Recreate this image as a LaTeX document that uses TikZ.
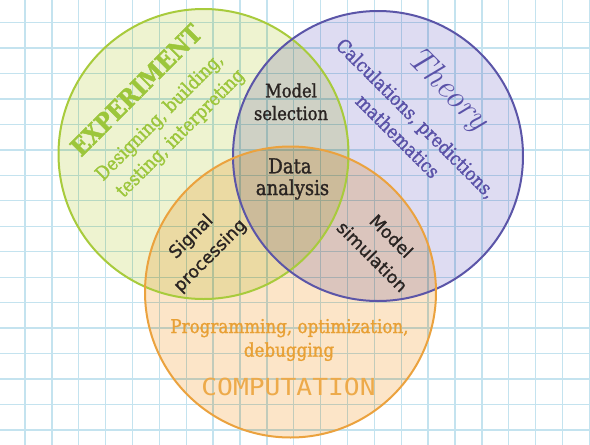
\documentclass[tikz,border=0pt]{standalone}
\usepackage{fontspec}
\newfontfamily\slab[FakeStretch=0.88,FakeBold=1.4]{DejaVu Serif}
\newfontfamily\slabx[FakeStretch=0.88,FakeBold=1.8]{DejaVu Serif}
\newfontfamily\sansf[FakeBold=1.2]{DejaVu Sans}
\newfontfamily\monof[FakeStretch=1.12]{DejaVu Sans Mono}
\definecolor{gridblue}{HTML}{C4E3EF}
\definecolor{gfill}{HTML}{EEF3D0}
\definecolor{pfill}{HTML}{DEDCF2}
\definecolor{ofill}{HTML}{FCE5C8}
\definecolor{gline}{HTML}{A8CB3C}
\definecolor{pline}{HTML}{5B55A8}
\definecolor{oline}{HTML}{EBA23E}
\definecolor{gtext}{HTML}{9CC63B}
\definecolor{ptext}{HTML}{5A52A8}
\definecolor{otext}{HTML}{E8A035}
\definecolor{ctext}{HTML}{EDAA4A}
\definecolor{dark}{HTML}{2A2422}
\tikzset{
  gridline/.style={draw=gridblue, line width=1.3pt},
  vennfill/.style={blend mode=multiply},
  vennline/.style={line width=2pt},
  lbl/.style={inner sep=0pt, outer sep=0pt},
  desc/.style={lbl, font=\slab\fontsize{19}{24}\selectfont},
  inner/.style={lbl, text=dark, font=\slab\fontsize{18.5}{22}\selectfont},
  center/.style={lbl, text=dark, font=\slab\fontsize{20.5}{22}\selectfont},
  side/.style={lbl, text=dark, font=\sansf\fontsize{17.5}{22}\selectfont},
}
\begin{document}
\begin{tikzpicture}[x=1pt,y=-1pt]
\useasboundingbox (0,0) rectangle (590,445);
\fill[white] (0,0) rectangle (590,445);
% grid paper
\foreach \i in {-1,...,21} \draw[gridline] ({25+26.875*\i},0) -- ({25+26.875*\i},445);
\foreach \j in {0,...,16} \draw[gridline] (0,{22.6+25.46*\j}) -- (590,{22.6+25.46*\j});
% circle centres
\coordinate (gc) at (203.5,154);
\coordinate (pc) at (378,156);
\coordinate (oc) at (290.5,292);
% fills
\fill[vennfill, gfill] (gc) circle[radius=145];
\fill[vennfill, pfill] (pc) circle[radius=145];
\fill[vennfill, ofill] (oc) circle[radius=145.5];
% outlines
\draw[vennline, gline] (gc) circle[radius=145];
\draw[vennline, pline] (pc) circle[radius=145];
\draw[vennline, oline] (oc) circle[radius=145.5];
% experiment
\node[lbl, text=gtext, rotate=45, font=\slabx\bfseries\fontsize{25}{28}\selectfont] (exp) at (136,90) {EXPERIMENT};
\node[desc, text=gtext, rotate=45] (exp1) at (160,117.5) {Designing, building,};
\node[desc, text=gtext, rotate=45] (exp2) at (181,134) {testing, interpreting};
% theory
\node[lbl, text=ptext, rotate=-45, font=\rmfamily\itshape\fontsize{34}{36}\selectfont] (the) at (447,90) {Theory};
\node[desc, text=ptext, rotate=-45] (the1) at (415,119.5) {Calculations, predictions,};
\node[desc, text=ptext, rotate=-45] (the2) at (398,136) {mathematics};
% computation
\node[desc, text=otext, anchor=base] (com1) at (289.5,333) {Programming, optimization,};
\node[desc, text=otext, anchor=base] (com2) at (289,356.7) {debugging};
\node[lbl, text=ctext, anchor=base, font=\monof\fontsize{23.5}{26}\selectfont] (com) at (288.5,395) {COMPUTATION};
% intersections
\node[inner, anchor=base] (ms1) at (291,97.3) {Model};
\node[inner, anchor=base] (ms2) at (291,120) {selection};
\node[center, anchor=base] (da1) at (290,173.3) {Data};
\node[center, anchor=base] (da2) at (292.5,195) {analysis};
\node[side, rotate=45] (sp1) at (191.5,237) {Signal};
\node[side, rotate=45] (sp2) at (210.5,256) {processing};
\node[side, rotate=-45] (sm1) at (391.5,236) {Model};
\node[side, rotate=-45] (sm2) at (372.5,256.5) {simulation};
\end{tikzpicture}
\end{document}
